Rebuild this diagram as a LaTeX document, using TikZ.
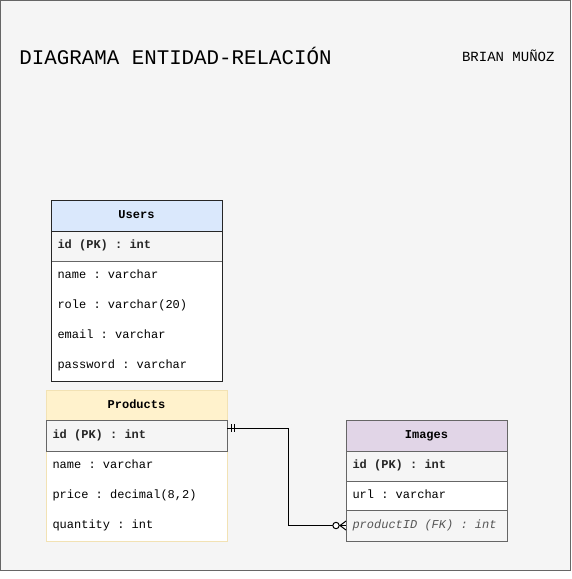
\documentclass[tikz,border=0pt]{standalone}
\usepackage{fontspec}
\setmonofont{Liberation Mono}
\usetikzlibrary{calc}
\definecolor{bgc}{HTML}{F5F5F5}
\definecolor{framec}{HTML}{666666}
\definecolor{bluef}{HTML}{DAE8FC}
\definecolor{yellowf}{HTML}{FFF2CC}
\definecolor{yellowd}{HTML}{F2E2B4}
\definecolor{purplef}{HTML}{E1D5E7}
\definecolor{pkf}{HTML}{F5F5F5}
\definecolor{graytxt}{HTML}{555555}
\begin{document}
\begin{tikzpicture}[x=1pt,y=-1pt,line width=1pt,
  fieldfont/.style={font=\ttfamily\fontsize{12}{14}\selectfont},
  headbox/.style={rectangle, anchor=north west, minimum height=30pt, inner sep=0pt,
    font=\ttfamily\bfseries\fontsize{12}{14}\selectfont, text height=8.5pt, text depth=2.5pt},
  rowbox/.style={rectangle, anchor=north west, minimum height=30pt, inner xsep=6pt, inner ysep=0pt,
    align=left, fieldfont, text height=8.5pt, text depth=2.5pt, fill=white,
    execute at begin node={\spaceskip=0pt\xspaceskip=0pt\relax}},
  pkrow/.style={rowbox, fill=pkf, font=\ttfamily\bfseries\fontsize{12}{14}\selectfont, text=black!85},
  fkrow/.style={rowbox, fill=pkf, font=\ttfamily\itshape\fontsize{12}{14}\selectfont, text=graytxt},
  relline/.style={line width=1pt, black},
]
\useasboundingbox (0,0) rectangle (571,579);
\fill[white] (0,0) rectangle (571,579);
\draw[draw=framec, fill=bgc] (0.5,0.5) rectangle (570.5,570.5);

% titles
\node[anchor=west, inner sep=0pt, font=\ttfamily\fontsize{20.8}{24}\selectfont] (title) at (19,56) {DIAGRAMA ENTIDAD-RELACIÓN};
\node[anchor=east, inner sep=0pt, font=\ttfamily\fontsize{14}{16}\selectfont] (author) at (555,56) {BRIAN MUÑOZ};

% ---------- Users ----------
\node[headbox, fill=bluef, minimum width=170pt] (uh) at (51,200) {Users};
\node[pkrow, minimum width=170pt, text width=158pt] (upk) at (51,230) {id (PK) : int};
\node[rowbox, minimum width=170pt, text width=158pt] (u1) at (51,260) {name : varchar};
\node[rowbox, minimum width=170pt, text width=158pt] (u2) at (51,290) {role : varchar(20)};
\node[rowbox, minimum width=170pt, text width=158pt] (u3) at (51,320) {email : varchar};
\node[rowbox, minimum width=170pt, text width=158pt] (u4) at (51,350) {password : varchar};
\draw[framec] (upk.south west) -- (upk.south east);
\draw[black!85] (uh.south west) -- (uh.south east);
\draw[black!85] (uh.north west) rectangle (u4.south east);

% ---------- Products ----------
\node[headbox, fill=yellowf, minimum width=180pt] (ph) at (46,390) {Products};
\node[pkrow, minimum width=180pt, text width=168pt] (ppk) at (46,420) {id (PK) : int};
\node[rowbox, minimum width=180pt, text width=168pt] (p1) at (46,450) {name : varchar};
\node[rowbox, minimum width=180pt, text width=168pt] (p2) at (46,480) {price : decimal(8,2)};
\node[rowbox, minimum width=180pt, text width=168pt] (p3) at (46,510) {quantity : int};
\draw[yellowd] (ph.north west) rectangle (p3.south east);
\draw[framec] (ppk.north west) rectangle (ppk.south east);

% ---------- Images ----------
\node[headbox, fill=purplef, minimum width=160pt] (ih) at (346,420) {Images};
\node[pkrow, minimum width=160pt, text width=148pt] (ipk) at (346,450) {id (PK) : int};
\node[rowbox, minimum width=160pt, text width=148pt] (i1) at (346,480) {url : varchar};
\node[fkrow, minimum width=160pt, text width=148pt] (ifk) at (346,510) {productID (FK) : int};
\draw[framec] (ih.south west) -- (ih.south east);
\draw[framec] (ipk.south west) -- (ipk.south east);
\draw[framec] (ifk.north west) -- (ifk.north east);
\draw[framec] (ih.north west) rectangle (ifk.south east);

% ---------- relation ----------
\coordinate (s) at ($(ppk.north east)+(0,8)$);
\coordinate (t) at (ifk.west);
\coordinate (bend) at ($(s)+(61,0)$);
\draw[relline] (s) -- (bend) |- (t);
% mandatory one
\draw[relline] ($(s)+(4,-4)$) -- ++(0,8);
\draw[relline] ($(s)+(7,-4)$) -- ++(0,8);
% zero to many
\draw[relline] ($(t)+(-6,0)$) -- ($(t)+(0,-4.5)$);
\draw[relline] ($(t)+(-6,0)$) -- ($(t)+(0,4.5)$);
\draw[relline, fill=white] ($(t)+(-10,0)$) circle (3.2pt);
\end{tikzpicture}
\end{document}
